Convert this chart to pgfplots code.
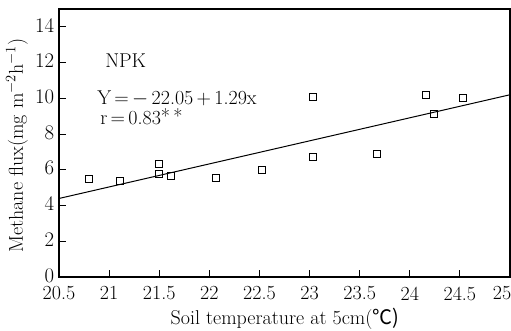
\documentclass[border=0pt]{standalone}
\usepackage{pgfplots}
\pgfplotsset{compat=1.18}
\usepackage{fontspec}
\newfontfamily\cjk{Noto Sans CJK SC}
\begin{document}
\begin{tikzpicture}[font=\fontsize{20}{24}\selectfont]
\begin{axis}[name=ax, scale only axis, width=451pt, height=268pt,
  xmin=20.5, xmax=25, ymin=0, ymax=15,
  xtick={20.5,21,21.5,22,22.5,23,23.5,24,24.5,25},
  xticklabels={20.5,21,21.5,22,22.5,23,23.5,24,24.5,\hspace*{-16pt}25},
  ytick={0,2,4,6,8,10,12,14},
  tick align=inside, xtick pos=bottom, ytick pos=left,
  major tick length=7pt,
  axis line style={line width=1.3pt},
  tick style={line width=1pt, black},
  tick label style={font=\fontsize{20}{24}\selectfont, inner sep=1pt},
  xticklabel style={yshift=-8.5pt},
  yticklabel style={xshift=-3.7pt, yshift=1.5pt},
  xlabel={Soil temperature at 5cm(\cjk{℃})},
  ylabel={Methane flux(mg m$^{-2}$h$^{-1}$)},
  x label style={at={(axis description cs:0.501,-0.155)}, anchor=center},
  y label style={at={(axis description cs:-0.093,0.49)}, anchor=center},
  clip=false]
\addplot[black, line width=1pt] coordinates {(20.5,4.395) (25,10.2)};
\addplot[only marks, mark=square, mark size=3.5pt, black, mark options={line width=1pt}] coordinates {
(20.8,5.5) (21.11,5.4) (21.5,6.35) (21.5,5.75) (21.62,5.67) (22.07,5.56) (22.53,6.0)
(23.03,10.1) (23.03,6.74) (23.67,6.9) (24.16,10.17) (24.24,9.1) (24.53,10.0)};
\node[anchor=west, inner sep=0pt] at (axis cs:20.96,12.08) {NPK};
\node[anchor=west, inner sep=0pt] at (axis cs:20.88,10.0) {Y\,=\,$-$\,22.05\,+\,1.29x};
\node[anchor=west, inner sep=0pt] at (axis cs:20.91,8.99) {r\,=\,0.83\raisebox{0.15ex}{*\,*}};
\end{axis}
\pgfresetboundingbox
\path ([shift={(-59pt,-54pt)}]ax.south west) rectangle ([shift={(1pt,9pt)}]ax.north east);
\end{tikzpicture}
\end{document}
